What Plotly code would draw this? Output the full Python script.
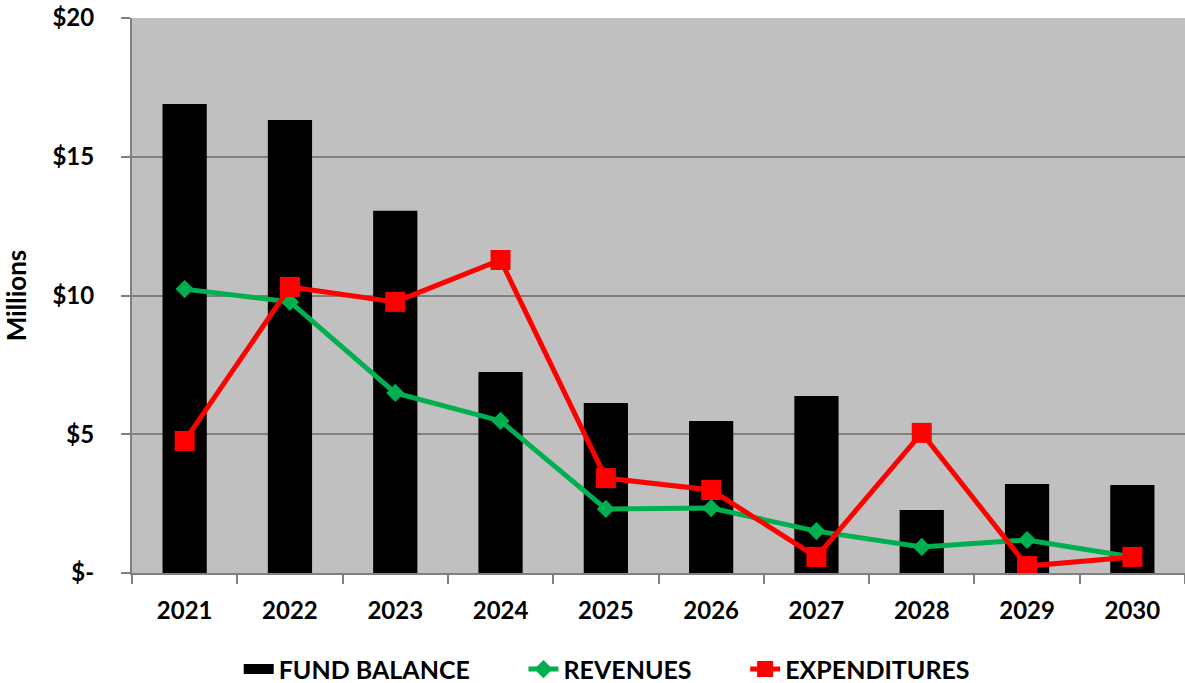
import plotly.graph_objects as go

years = ["2021", "2022", "2023", "2024", "2025", "2026", "2027", "2028", "2029", "2030"]
fund_balance = [16.9, 16.32, 13.05, 7.24, 6.13, 5.48, 6.38, 2.27, 3.21, 3.17]
revenues = [10.23, 9.77, 6.49, 5.48, 2.31, 2.34, 1.51, 0.94, 1.19, 0.58]
expenditures = [4.76, 10.31, 9.77, 11.28, 3.42, 2.99, 0.58, 5.05, 0.25, 0.58]

y_tick_vals = [0, 5, 10, 15, 20]
y_tick_text = ["$-", "$5", "$10", "$15", "$20"]

font_family = "Lato, 'Open Sans', sans-serif"
label_size = 24
legend_size = 25
gap = "\u00a0" * 8  # extra room between legend entries

fig = go.Figure()
# Fund balance columns; the legend swatch is drawn by a wide black key below
fig.add_trace(go.Bar(
    x=years, y=fund_balance, name="FUND BALANCE",
    marker=dict(color="#000000", line=dict(width=0)),
    width=0.42, showlegend=False, legendgroup="fb",
))
fig.add_trace(go.Scatter(
    x=[None], y=[None], name="FUND BALANCE" + gap, mode="lines",
    line=dict(color="#000000", width=17), legendgroup="fb",
    hoverinfo="skip",
))
fig.add_trace(go.Scatter(
    x=years, y=revenues, name="REVENUES" + gap, mode="lines+markers",
    line=dict(color="#00B050", width=5),
    marker=dict(symbol="diamond", size=14, color="#00B050"),
))
fig.add_trace(go.Scatter(
    x=years, y=expenditures, name="EXPENDITURES", mode="lines+markers",
    line=dict(color="#FF0000", width=5),
    marker=dict(symbol="square", size=20, color="#FF0000"),
))

fig.update_layout(
    width=1185, height=683,
    margin=dict(l=132, r=0, t=18, b=110),
    paper_bgcolor="#FFFFFF",
    plot_bgcolor="#C0C0C0",
    font=dict(family=font_family, size=label_size, color="#000000"),
    showlegend=True,
    legend=dict(
        orientation="h", xref="container", yref="container",
        x=0.512, xanchor="center", y=0.02, yanchor="middle",
        font=dict(family=font_family, size=legend_size, color="#000000", weight="bold"),
        tracegroupgap=0,
    ),
)
fig.update_xaxes(
    type="category",
    range=[-0.5, 9.5],
    automargin=False,
    showgrid=False,
    showline=True, linecolor="#808080", linewidth=2,
    ticks="outside", tickson="boundaries", ticklen=9, tickwidth=2, tickcolor="#808080",
    tickfont=dict(family=font_family, size=label_size, weight="bold"),
    ticklabelstandoff=15,
)
fig.update_yaxes(
    range=[0, 20],
    automargin=False,
    tickvals=y_tick_vals, ticktext=y_tick_text,
    showgrid=True, gridcolor="#808080", gridwidth=2,
    showline=True, linecolor="#808080", linewidth=2,
    ticks="outside", ticklen=9, tickwidth=2, tickcolor="#808080",
    tickfont=dict(family=font_family, size=label_size, weight="bold"),
    ticklabelstandoff=22,
    zeroline=False,
    title=dict(text="Millions", font=dict(family=font_family, size=26, weight="bold"), standoff=20),
)

fig.write_html("out.html")
